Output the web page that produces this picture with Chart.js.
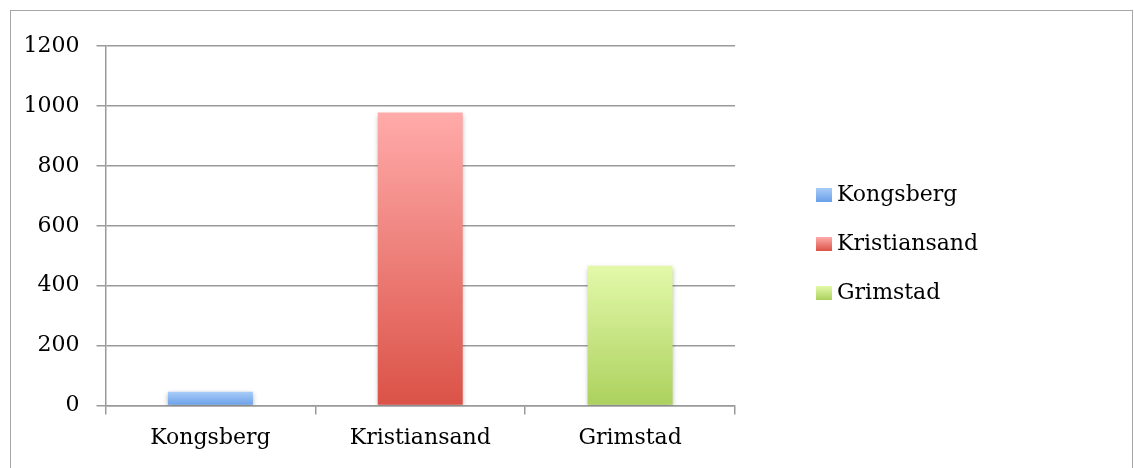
<!DOCTYPE html>
<html>
<head>
<meta charset="utf-8">
<script src="https://cdn.jsdelivr.net/npm/chart.js@4"></script>
<style>
  html, body { margin: 0; padding: 0; background: #fff; }
  #box { position: absolute; left: 10px; top: 10px; width: 1121px; height: 470px; border: 1.5px solid #a6a6a6; }
</style>
</head>
<body>
<div id="box"><canvas id="towns"></canvas></div>
<script>
const towns = ['Kongsberg', 'Kristiansand', 'Grimstad'];
const counts = [46, 978, 467];
const yTicks = [0, 200, 400, 600, 800, 1000, 1200];

const shades = [
  ['#a8ccf8', '#6a9fe8'],
  ['#ffabaa', '#db5247'],
  ['#e3f9aa', '#acd15e']
];
const solid = ['#7aaced', '#ec6f69', '#c4e38a'];

const barGradient = (i) => (c) => {
  const area = c.chart.chartArea;
  if (!area) return solid[i];
  const y0 = c.chart.scales.y.getPixelForValue(counts[i]);
  const g = c.chart.ctx.createLinearGradient(0, y0, 0, area.bottom);
  g.addColorStop(0, shades[i][0]);
  g.addColorStop(1, shades[i][1]);
  return g;
};

const barShadow = {
  id: 'barShadow',
  beforeDatasetsDraw(chart) {
    const ctx = chart.ctx;
    ctx.save();
    ctx.shadowColor = 'rgba(0,0,0,0.3)';
    ctx.shadowBlur = 5;
    ctx.shadowOffsetY = 2;
  },
  afterDatasetsDraw(chart) { chart.ctx.restore(); }
};

// legend on the right, drawn by hand so it can sit where the original has it
const sideLegend = {
  id: 'sideLegend',
  afterDraw(chart) {
    const ctx = chart.ctx;
    const x = chart.chartArea.right + 81;
    let y = 184;
    ctx.save();
    ctx.font = '22px "DejaVu Serif"';
    ctx.textBaseline = 'middle';
    chart.data.datasets.forEach((ds, i) => {
      const g = ctx.createLinearGradient(0, y - 7, 0, y + 7);
      g.addColorStop(0, shades[i][0]);
      g.addColorStop(1, shades[i][1]);
      ctx.fillStyle = g;
      ctx.fillRect(x, y - 7, 16, 14);
      ctx.fillStyle = '#000';
      ctx.fillText(ds.label, x + 21, y);
      y += 49;
    });
    ctx.restore();
  }
};

const font = { family: 'DejaVu Serif', size: 22 };

new Chart(document.getElementById('towns'), {
  type: 'bar',
  data: {
    labels: towns,
    datasets: towns.map((t, i) => ({
      label: t,
      data: towns.map((_, j) => (j === i ? counts[i] : null)),
      backgroundColor: barGradient(i),
      barPercentage: 0.405,
      categoryPercentage: 1,
      grouped: false
    }))
  },
  options: {
    responsive: true,
    maintainAspectRatio: false,
    animation: false,
    layout: { padding: { left: 0, top: 35, right: 397, bottom: 20 } },
    plugins: {
      tooltip: { enabled: false },
      legend: { display: false }
    },
    scales: {
      x: {
        ticks: { font: font, color: '#000', padding: 10 },
        grid: { drawOnChartArea: false, drawTicks: true, tickLength: 9, color: '#9a9a9a', lineWidth: 1.5 },
        border: { color: '#9a9a9a', width: 1.5 }
      },
      y: {
        min: 0,
        max: 1200,
        afterBuildTicks: (s) => { s.ticks = yTicks.map(v => ({ value: v })); },
        afterFit: (s) => { s.width = 94.5; },
        ticks: { font: font, color: '#000', padding: 17, callback: (v) => String(v) },
        grid: { color: '#9a9a9a', lineWidth: 1.5, tickLength: 9 },
        border: { color: '#9a9a9a', width: 1.5 }
      }
    }
  },
  plugins: [barShadow, sideLegend]
});
</script>
</body>
</html>
